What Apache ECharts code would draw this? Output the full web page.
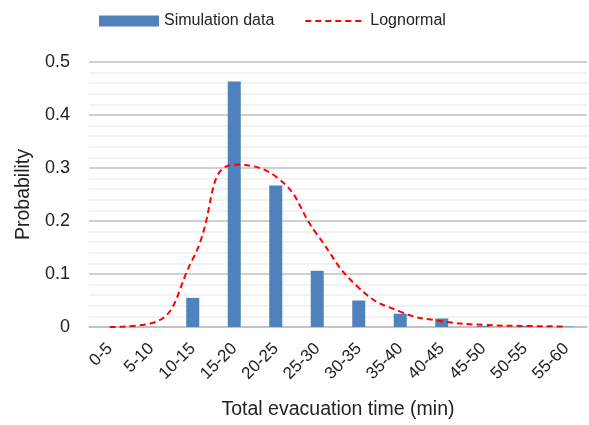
<!DOCTYPE html>
<html>
<head>
<meta charset="utf-8">
<script src="https://cdn.jsdelivr.net/npm/echarts@6/dist/echarts.min.js"></script>
<style>html,body{margin:0;padding:0;background:#fff}#c{width:589px;height:425px}</style>
</head>
<body>
<div id="c"></div>
<script>
const categories = ['0-5','5-10','10-15','15-20','20-25','25-30','30-35','35-40','40-45','45-50','50-55','55-60'];
const simulationData = [0, 0, 0.055, 0.463, 0.267, 0.106, 0.050, 0.025, 0.016, 0.002, 0.002, 0.001];
const lognormal = [0, 0.007, 0.128, 0.306, 0.284, 0.174, 0.074, 0.029, 0.011, 0.004, 0.002, 0.001];
const yTicks = [0, 0.1, 0.2, 0.3, 0.4, 0.5];

const FONT = '"Liberation Sans", Arial, sans-serif';
const chart = echarts.init(document.getElementById('c'), null, {renderer: 'canvas'});
chart.setOption({
  animation: false,
  textStyle: {fontFamily: FONT},
  legend: {
    top: 8, left: 94,
    itemWidth: 60, itemHeight: 11, itemGap: 30,
    textStyle: {fontFamily: FONT, fontSize: 16, color: '#222'},
    data: [
      {name: 'Simulation data', icon: 'rect'},
      {name: 'Lognormal', itemStyle: {opacity: 0}}
    ]
  },
  grid: {left: 89, right: 2, top: 62, bottom: 98},
  xAxis: {
    type: 'category', data: categories,
    name: 'Total evacuation time (min)', nameLocation: 'middle', nameGap: 73,
    nameTextStyle: {fontFamily: FONT, fontSize: 19.5, color: '#222'},
    axisLine: {show: true, lineStyle: {color: '#bfbfbf', width: 1.5}},
    axisTick: {show: false},
    axisLabel: {rotate: 45, fontFamily: FONT, fontSize: 17, color: '#222', margin: 19, interval: 0}
  },
  yAxis: {
    type: 'value', min: yTicks[0], max: yTicks[yTicks.length - 1], interval: 0.1,
    name: 'Probability', nameLocation: 'middle', nameGap: 53,
    nameTextStyle: {fontFamily: FONT, fontSize: 19.5, color: '#222'},
    axisLine: {show: false}, axisTick: {show: false},
    axisLabel: {fontFamily: FONT, fontSize: 18, color: '#222', margin: 19,
      formatter: v => String(Math.round(v * 10) / 10)},
    splitLine: {lineStyle: {color: '#c0c0c0', width: 1.5}},
    minorTick: {show: false, splitNumber: 5},
    minorSplitLine: {show: true, lineStyle: {color: '#eeeeee', width: 1.5}}
  },
  series: [
    {
      name: 'Simulation data', type: 'bar', data: simulationData,
      barWidth: 13, itemStyle: {color: '#4f81bd'}
    },
    {
      name: 'Lognormal', type: 'line', data: lognormal, smooth: 0.5,
      showSymbol: false, symbol: 'none',
      lineStyle: {color: '#ff0000', width: 2, type: [6, 4]},
      itemStyle: {color: '#ff0000'}
    }
  ]
});
</script>
</body>
</html>
